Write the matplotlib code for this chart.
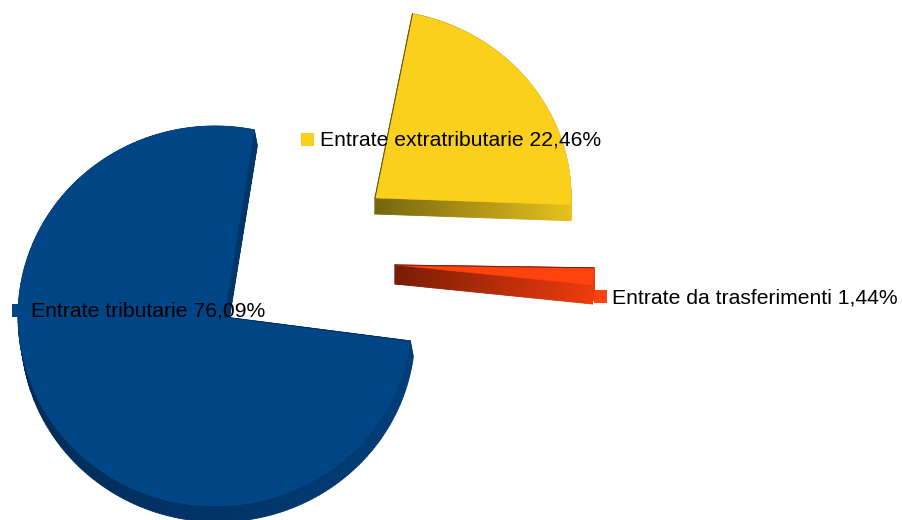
import numpy as np
import matplotlib
matplotlib.use("Agg")
import matplotlib.pyplot as plt
from matplotlib.collections import PolyCollection
from matplotlib.colors import LinearSegmentedColormap
from matplotlib.patches import Rectangle, Polygon

plt.rcParams['font.family'] = ['Liberation Sans', 'DejaVu Sans']

names = ["Entrate tributarie", "Entrate da trasferimenti", "Entrate extratributarie"]
values = [76.09, 1.44, 22.46]
colors = ["#004586", "#ff420e", "#fbd01c"]
wall_dark = ["#002b57", "#7a1c05", "#75650f"]
wall_light = ["#003d78", "#ee3b0c", "#e6c01c"]
edge_colors = ["#00305e", "#6b2010", "#5a4c10"]

start_angle = 78.5

# layout of the exploded slices, in image pixels
arc_centers = [(215, 316), (395, 260), (373, 197)]
apexes = [(224, 317), (395, 265), (375, 198)]
radii = [(197, 190), (199, 190), (198, 187)]
depths = [(3, 16), (0, 19), (0, 16)]
legend_boxes = [(12, 304), (594, 290), (301, 133)]
label_pos = [(31.5, 311), (612, 298), (320, 140.5)]

fig = plt.figure(figsize=(9.03, 5.20), dpi=100)
ax = fig.add_axes([0, 0, 1, 1])
ax.set_xlim(0, 903)
ax.set_ylim(520, 0)
ax.axis("off")

shares = np.array(values) / sum(values) * 360
ends = start_angle + np.cumsum(shares)
starts = ends - shares

for i in range(len(values)):
    t = np.radians(np.linspace(starts[i], ends[i], 240))
    cx, cy = arc_centers[i]
    rx, ry = radii[i]
    arc = np.column_stack([cx + rx * np.cos(t), cy - ry * np.sin(t)])
    apex = np.array(apexes[i], dtype=float)
    top = np.vstack([apex, arc])

    # radial edges split up too, so the shading runs along them
    steps = np.linspace(0, 1, 80)[:, None]
    outline = np.vstack([apex + (arc[0] - apex) * steps, arc[1:], arc[-1] + (apex - arc[-1]) * steps[1:]])

    # side walls: one small quad per outline edge, shaded left to right
    dx, dy = depths[i]
    quads = [[outline[k], outline[k + 1], outline[k + 1] + (dx, dy), outline[k] + (dx, dy)]
             for k in range(len(outline) - 1)]
    mid_x = (outline[:-1, 0] + outline[1:, 0]) / 2
    cmap = LinearSegmentedColormap.from_list("wall", [wall_dark[i], wall_light[i]])
    face = cmap((mid_x - mid_x.min()) / (mid_x.max() - mid_x.min()))
    ax.add_collection(PolyCollection(quads, facecolors=face, edgecolors=face, linewidths=0.6, zorder=2 + i))
    ax.add_patch(Polygon(top, closed=True, facecolor=colors[i], edgecolor=colors[i],
                         linewidth=0.3, zorder=2.5 + i))
    # dark line on the upper straight edge
    ax.plot([apex[0], arc[-1, 0]], [apex[1], arc[-1, 1]], color=edge_colors[i], lw=0.7, zorder=2.6 + i)

for i in range(len(values)):
    x, y = legend_boxes[i]
    ax.add_patch(Rectangle((x, y), 13, 13, facecolor=colors[i], edgecolor="none", zorder=8))
    label = f"{names[i]} {values[i]:.2f}%".replace(".", ",")
    ax.text(label_pos[i][0], label_pos[i][1], label, fontsize=15.2, color="#000000",
            va="center", ha="left", zorder=9)

fig.savefig("out.png", dpi=100)
